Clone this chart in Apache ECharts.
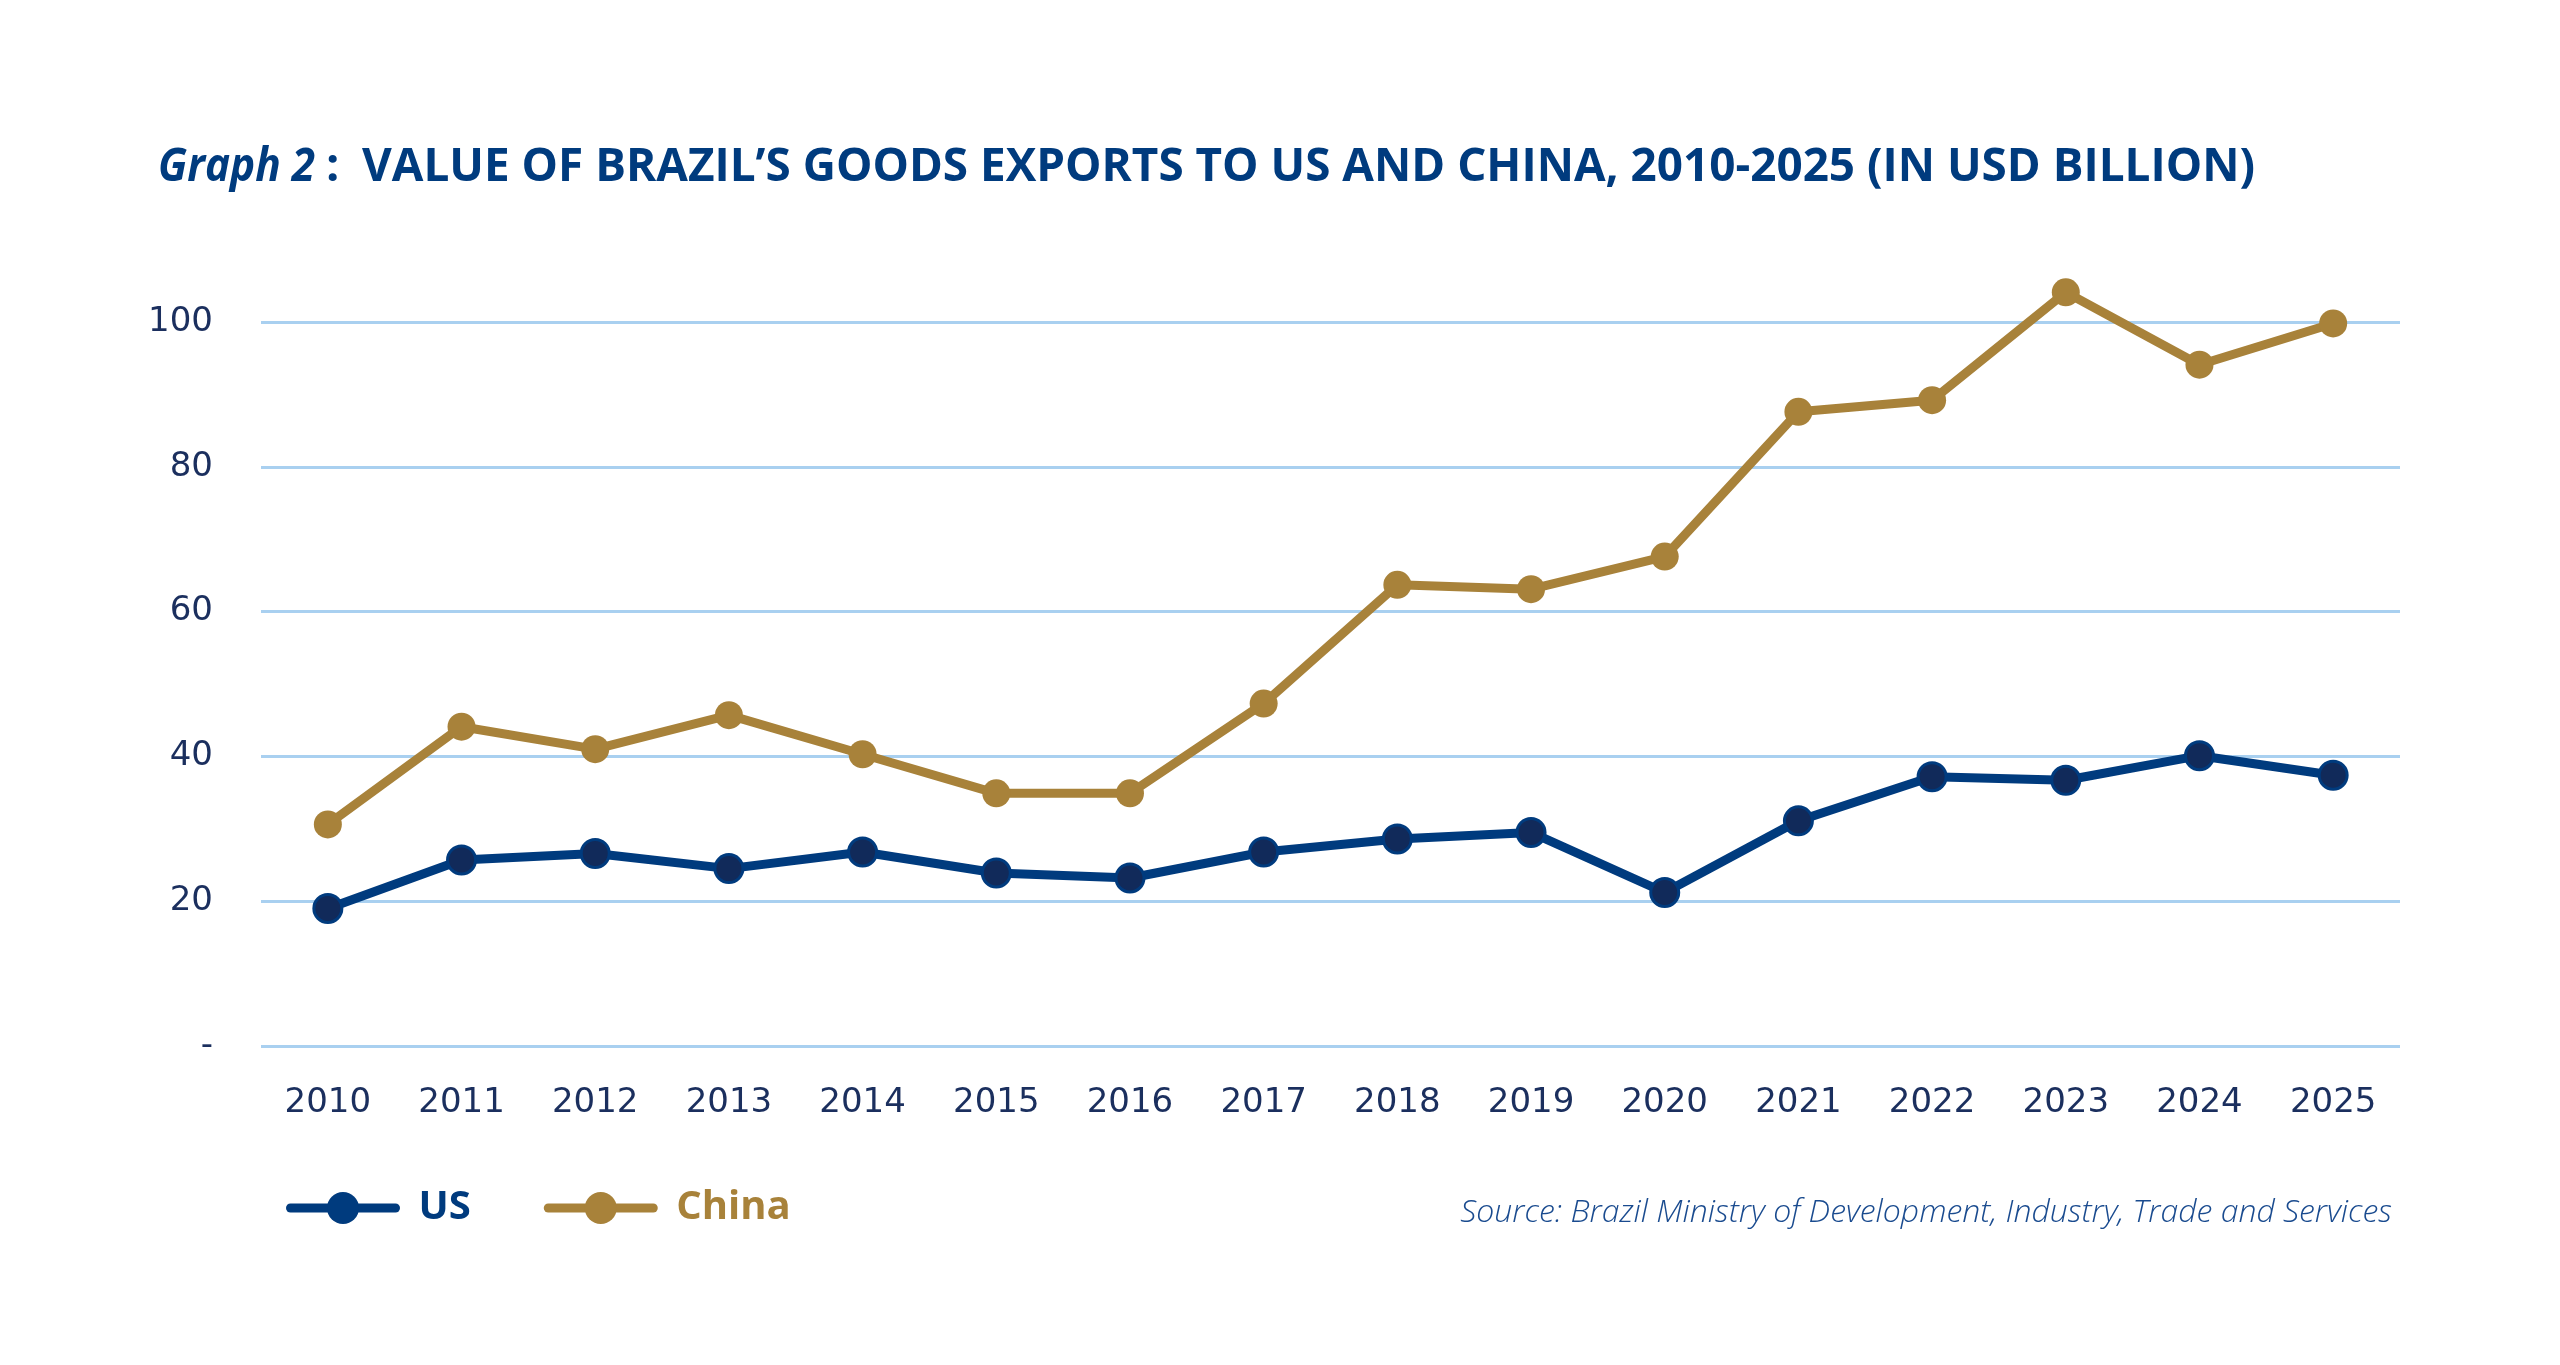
<!DOCTYPE html>
<html>
<head>
<meta charset="utf-8">
<script src="https://cdn.jsdelivr.net/npm/echarts@6/dist/echarts.min.js"></script>
<style>
  html, body { margin: 0; padding: 0; background: #fff; }
  #chart { width: 2560px; height: 1365px; }
</style>
</head>
<body>
<div id="chart"></div>
<script>
const years = ['2010', '2011', '2012', '2013', '2014', '2015', '2016', '2017',
               '2018', '2019', '2020', '2021', '2022', '2023', '2024', '2025']
const usValues = [19.0, 25.7, 26.6, 24.5, 26.8, 23.9, 23.2, 26.8,
                  28.6, 29.5, 21.2, 31.1, 37.2, 36.7, 40.1, 37.4]
const chinaValues = [30.6, 44.1, 41.0, 45.7, 40.3, 34.9, 34.9, 47.3,
                     63.7, 63.1, 67.6, 87.6, 89.2, 104.1, 94.1, 99.8]
const yTicks = [0, 20, 40, 60, 80, 100]

const navy = '#003b7e'
const gold = '#a8823a'
const titleLead = 'Graph 2'
const titleMain = 'VALUE OF BRAZIL\u2019S GOODS EXPORTS TO US AND CHINA, 2010-2025 (IN USD BILLION)'

// squeeze a wide font to the condensed width of the original title
function fitScale(text, font, target) {
    let ctx = document.createElement('canvas').getContext('2d')
    ctx.font = font
    return target / ctx.measureText(text).width
}
const leadFont = 'italic bold 47px "Open Sans"'
const mainFont = 'bold 47px "Open Sans"'

let chart = echarts.init(document.getElementById('chart'))
chart.setOption({
    backgroundColor: '#fff',
    animation: false,
    graphic: [
        {
            type: 'text', x: 158, y: 168,
            scaleX: fitScale(titleLead, leadFont, 157),
            style: { text: titleLead, font: leadFont, fill: navy, verticalAlign: 'middle' }
        },
        {
            type: 'text', x: 326, y: 168,
            style: { text: ':', font: mainFont, fill: navy, verticalAlign: 'middle' }
        },
        {
            type: 'text', x: 362, y: 168,
            scaleX: fitScale(titleMain, mainFont, 1893),
            style: { text: titleMain, font: mainFont, fill: navy, verticalAlign: 'middle' }
        }
    ],
    title: {
        right: 163,
        top: 1192,
        text: 'Source: Brazil Ministry of Development, Industry, Trade and Services',
        textStyle: { fontFamily: 'Open Sans', fontStyle: 'italic', fontWeight: 300, fontSize: 32, color: '#1a4b8f' }
    },
    legend: {
        left: 281,
        top: 1183,
        itemWidth: 105,
        itemHeight: 40,
        itemGap: 73,
        lineStyle: { width: 9, cap: 'round' },
        textStyle: { fontFamily: 'Open Sans', fontWeight: 'bold', fontSize: 40, padding: [0, 0, 0, 18] },
        data: [
            { name: 'US', textStyle: { color: navy }, itemStyle: { color: navy, borderWidth: 0 } },
            { name: 'China', textStyle: { color: gold } }
        ]
    },
    grid: { left: 261, right: 160, top: 322, bottom: 319, containLabel: false },
    xAxis: {
        type: 'category',
        data: years,
        boundaryGap: true,
        axisLine: { show: false },
        axisTick: { show: false },
        axisLabel: { margin: 40, fontFamily: 'DejaVu Sans', fontSize: 34, color: '#1b2f5e' }
    },
    yAxis: {
        type: 'value',
        min: yTicks[0],
        max: yTicks[yTicks.length - 1],
        interval: 20,
        axisLine: { show: false },
        axisTick: { show: false },
        splitLine: { lineStyle: { color: '#a9d0f0', width: 3 } },
        axisLabel: {
            margin: 48,
            fontFamily: 'DejaVu Sans',
            fontSize: 34,
            color: '#1b2f5e',
            formatter: v => v === 0 ? '-' : String(v)
        }
    },
    series: [
        {
            name: 'US',
            type: 'line',
            data: usValues,
            clip: false,
            symbol: 'circle',
            symbolSize: 28,
            lineStyle: { color: navy, width: 9 },
            itemStyle: { color: '#112a5a', borderColor: navy, borderWidth: 3 }
        },
        {
            name: 'China',
            type: 'line',
            data: chinaValues,
            clip: false,
            symbol: 'circle',
            symbolSize: 28,
            lineStyle: { color: gold, width: 9 },
            itemStyle: { color: gold }
        }
    ]
})
</script>
</body>
</html>
